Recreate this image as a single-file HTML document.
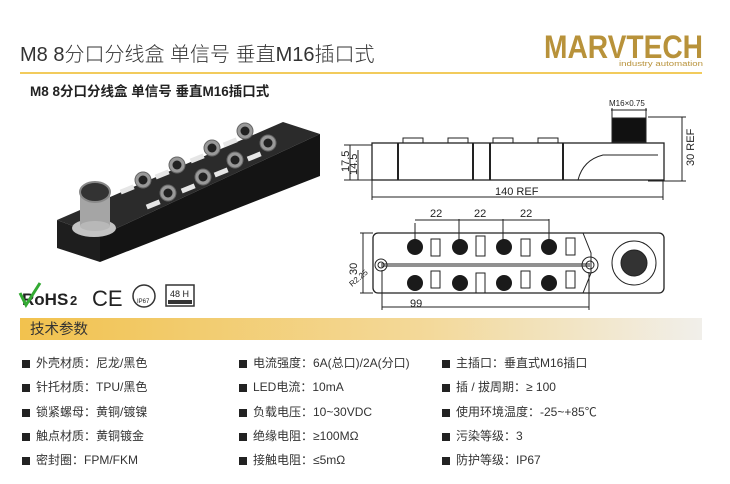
<!DOCTYPE html>
<html><head><meta charset="utf-8"><style>
body{margin:0;width:730px;height:484px;background:#fff;position:relative;overflow:hidden;font-family:"Liberation Sans","Noto Sans CJK SC",sans-serif;color:#333}
.a{position:absolute;white-space:nowrap}
.row{font-size:12px;color:#333}
.row b{display:inline-block;width:8px;height:8px;background:#222;margin-right:6px;vertical-align:-1px}
</style></head><body>
<div class="a" style="left:20px;top:38px;font-size:20px;color:#333;font-weight:300">M8 8分口分线盒 单信号 垂直M16插口式</div>
<div class="a" style="left:20px;top:72px;width:682px;height:2px;background:#f2cb5c"></div>
<div class="a" style="left:30px;top:80px;font-size:13.5px;font-weight:bold;color:#222">M8 8分口分线盒 单信号 垂直M16插口式</div>
<svg class="a" style="left:0;top:0" width="730" height="484" viewBox="0 0 730 484">
<text x="544" y="58" font-family="Liberation Sans" font-weight="bold" font-size="32" fill="#b8923a" textLength="159" lengthAdjust="spacingAndGlyphs">MARVTECH</text>
<text x="619" y="66" font-family="Liberation Sans" font-size="7.5" fill="#b8923a" textLength="84" lengthAdjust="spacingAndGlyphs">industry automation</text>
<!-- product -->
<polygon points="57,220 283,122 320,134 100,236" fill="#2b2b2b"/>
<polygon points="100,236 320,134 320,176 100,262" fill="#141414"/>
<polygon points="57,220 100,236 100,262 57,248" fill="#1e1e1e"/>
<g fill="#e6e6e6">
<rect x="120" y="187" width="14" height="5" transform="rotate(-22 127 189)"/><rect x="155" y="172" width="14" height="5" transform="rotate(-22 162 174)"/><rect x="190" y="156" width="14" height="5" transform="rotate(-22 197 158)"/><rect x="223" y="140" width="14" height="5" transform="rotate(-22 230 142)"/>
<rect x="146" y="202" width="14" height="5" transform="rotate(-22 153 204)"/><rect x="181" y="186" width="14" height="5" transform="rotate(-22 188 188)"/><rect x="214" y="170" width="14" height="5" transform="rotate(-22 221 172)"/><rect x="247" y="154" width="14" height="5" transform="rotate(-22 254 156)"/>
</g>
<g fill="#999" stroke="#666">
<circle cx="143" cy="180" r="8"/><circle cx="177" cy="165" r="8"/><circle cx="212" cy="148" r="8"/><circle cx="245" cy="131" r="8"/>
<circle cx="168" cy="193" r="8"/><circle cx="203" cy="177" r="8"/><circle cx="235" cy="160" r="8"/><circle cx="268" cy="143" r="8"/>
</g>
<g fill="#222"><circle cx="143" cy="180" r="4.5"/><circle cx="177" cy="165" r="4.5"/><circle cx="212" cy="148" r="4.5"/><circle cx="245" cy="131" r="4.5"/><circle cx="168" cy="193" r="4.5"/><circle cx="203" cy="177" r="4.5"/><circle cx="235" cy="160" r="4.5"/><circle cx="268" cy="143" r="4.5"/></g>
<ellipse cx="94" cy="228" rx="22" ry="9" fill="#c4c4c4"/>
<rect x="80" y="192" width="30" height="34" fill="#a5a5a5"/>
<ellipse cx="95" cy="226" rx="15" ry="5" fill="#b8b8b8"/>
<ellipse cx="95" cy="192" rx="15" ry="10" fill="#333" stroke="#888" stroke-width="2"/>
<!-- certs -->
<text x="22" y="305" font-family="Liberation Sans" font-weight="bold" font-size="17" fill="#222">RoHS</text><text x="70" y="305" font-family="Liberation Sans" font-weight="bold" font-size="13" fill="#222">2</text>
<path d="M20 293 L26 305 L40 283" stroke="#3a3" stroke-width="3" fill="none"/>
<text x="92" y="306" font-family="Liberation Sans" font-size="22" fill="#222">CE</text>
<circle cx="144" cy="296" r="11" fill="#fff" stroke="#333" stroke-width="1.5"/><text x="137" y="303" font-size="6" font-family="Liberation Sans" fill="#222">IP67</text>
<rect x="166" y="285" width="28" height="21" fill="#fff" stroke="#333" stroke-width="1.5"/><text x="170" y="297" font-size="9" font-family="Liberation Sans" fill="#222">48 H</text><rect x="168" y="300" width="24" height="4" fill="#333"/>
<!-- side view -->
<g stroke="#222" fill="none" stroke-width="1">
<rect x="372" y="143" width="292" height="37" fill="#fff" stroke-width="1.3"/>
<line x1="398" y1="143" x2="398" y2="180" stroke-width="2"/><line x1="473" y1="143" x2="473" y2="180" stroke-width="2"/><line x1="490" y1="143" x2="490" y2="180" stroke-width="2"/><line x1="563" y1="143" x2="563" y2="180" stroke-width="2"/>
<path d="M403 143 v-5 h20 v5 M448 143 v-5 h20 v5 M493 143 v-5 h20 v5 M538 143 v-5 h20 v5"/>
<path d="M578 180 q5 -20 25 -25 h55"/>
<rect x="612" y="118" width="34" height="24" fill="#111"/>
<line x1="612" y1="108" x2="612" y2="118"/><line x1="646" y1="108" x2="646" y2="118"/><line x1="611" y1="110" x2="647" y2="110"/>
<line x1="648" y1="117" x2="686" y2="117"/><line x1="648" y1="181" x2="686" y2="181"/><line x1="682" y1="117" x2="682" y2="181"/>
<line x1="344" y1="145" x2="372" y2="145"/><line x1="344" y1="180" x2="372" y2="180"/><line x1="350" y1="145" x2="350" y2="180"/><line x1="358" y1="150" x2="358" y2="180"/>
<line x1="372" y1="180" x2="372" y2="200"/><line x1="663" y1="180" x2="663" y2="200"/><line x1="372" y1="197" x2="663" y2="197"/>
</g>
<g font-family="Liberation Sans" font-size="11" fill="#222">
<text x="609" y="106" font-size="8">M16×0.75</text>
<text x="495" y="195">140 REF</text>
<text transform="translate(694,166) rotate(-90)">30 REF</text>
<text transform="translate(349,172) rotate(-90)">17.5</text>
<text transform="translate(357,175) rotate(-90)">14.5</text>
<text x="430" y="217">22</text><text x="474" y="217">22</text><text x="520" y="217">22</text>
<text x="410" y="307">99</text>
<text x="395" y="249">1</text>
<text transform="translate(357,275) rotate(-90)">30</text>
<text transform="translate(352,287) rotate(-40)" font-size="8">R2.25</text>
<text transform="translate(596,254) rotate(-40)" font-size="8">Ø4.5</text>
</g>
<!-- front view -->
<g stroke="#222" fill="none" stroke-width="1">
<rect x="373" y="233" width="291" height="60" rx="5" fill="#fff" stroke-width="1.3"/>
<line x1="381" y1="264" x2="590" y2="264"/><line x1="381" y1="266" x2="590" y2="266"/>
<path d="M583 233 l8 20 l0 20 l-8 20"/>
<circle cx="381" cy="265" r="6"/><circle cx="381" cy="265" r="3"/>
<circle cx="590" cy="265" r="8"/><circle cx="590" cy="265" r="4"/>
<circle cx="634" cy="263" r="22"/><circle cx="634" cy="263" r="13" fill="#333"/>
<line x1="415" y1="223" x2="415" y2="240"/><line x1="459" y1="219" x2="459" y2="240"/><line x1="503" y1="219" x2="503" y2="240"/><line x1="549" y1="219" x2="549" y2="240"/><line x1="415" y1="220" x2="549" y2="220"/>
<line x1="360" y1="233" x2="373" y2="233"/><line x1="360" y1="293" x2="373" y2="293"/><line x1="363" y1="233" x2="363" y2="293"/>
<line x1="382" y1="270" x2="382" y2="310"/><line x1="589" y1="272" x2="589" y2="310"/><line x1="382" y1="307" x2="589" y2="307"/>
<rect x="431" y="239" width="9" height="17"/><rect x="476" y="236" width="9" height="20"/><rect x="521" y="239" width="9" height="17"/><rect x="566" y="238" width="9" height="17"/>
<rect x="431" y="271" width="9" height="17"/><rect x="476" y="273" width="9" height="20"/><rect x="521" y="271" width="9" height="17"/><rect x="566" y="271" width="9" height="17"/>
</g>
<g fill="#1a1a1a"><circle cx="415" cy="247" r="8"/><circle cx="460" cy="247" r="8"/><circle cx="504" cy="247" r="8"/><circle cx="549" cy="247" r="8"/><circle cx="415" cy="283" r="8"/><circle cx="460" cy="283" r="8"/><circle cx="504" cy="283" r="8"/><circle cx="549" cy="283" r="8"/></g>
<defs><linearGradient id="g" x1="0" x2="1"><stop offset="0" stop-color="#f2c24e"/><stop offset="0.6" stop-color="#f3d99a"/><stop offset="1" stop-color="#f1efea"/></linearGradient></defs>
<rect x="20" y="318" width="682" height="22" fill="url(#g)"/>
<text x="30" y="334" font-size="14.5" fill="#333" font-family="Liberation Sans, Noto Sans CJK SC, sans-serif">技术参数</text>
</svg>
<div class="a row" style="left:22px;top:354px">
<div style="height:24.3px"><b></b>外壳材质：尼龙/黑色</div><div style="height:24.3px"><b></b>针托材质：TPU/黑色</div><div style="height:24.3px"><b></b>锁紧螺母：黄铜/镀镍</div><div style="height:24.3px"><b></b>触点材质：黄铜镀金</div><div style="height:24.3px"><b></b>密封圈：FPM/FKM</div></div>
<div class="a row" style="left:239px;top:354px">
<div style="height:24.3px"><b></b>电流强度：6A(总口)/2A(分口)</div><div style="height:24.3px"><b></b>LED电流：10mA</div><div style="height:24.3px"><b></b>负载电压：10~30VDC</div><div style="height:24.3px"><b></b>绝缘电阻：≥100MΩ</div><div style="height:24.3px"><b></b>接触电阻：≤5mΩ</div></div>
<div class="a row" style="left:442px;top:354px">
<div style="height:24.3px"><b></b>主插口：垂直式M16插口</div><div style="height:24.3px"><b></b>插 / 拔周期：≥ 100</div><div style="height:24.3px"><b></b>使用环境温度：-25~+85℃</div><div style="height:24.3px"><b></b>污染等级：3</div><div style="height:24.3px"><b></b>防护等级：IP67</div></div>
</body></html>
